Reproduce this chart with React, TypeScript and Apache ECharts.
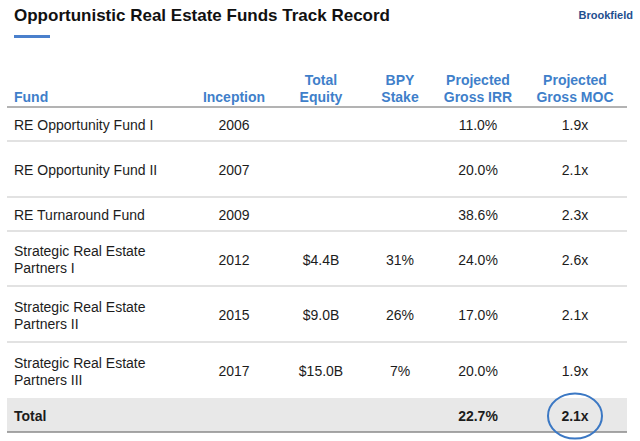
import React, { useEffect, useRef } from "react";
import * as echarts from "echarts";

const title = "Opportunistic Real Estate Funds Track Record";
const brand = "Brookfield";
const headers = ["Fund", "Inception", "Total\nEquity", "BPY\nStake", "Projected\nGross IRR", "Projected\nGross MOC"];
const funds = [
  "RE Opportunity Fund I",
  "RE Opportunity Fund II",
  "RE Turnaround Fund",
  "Strategic Real Estate\nPartners I",
  "Strategic Real Estate\nPartners II",
  "Strategic Real Estate\nPartners III",
];
const inception = ["2006", "2007", "2009", "2012", "2015", "2017"];
const totalEquity = ["", "", "", "$4.4B", "$9.0B", "$15.0B"];
const bpyStake = ["", "", "", "31%", "26%", "7%"];
const grossIrr = [11.0, 20.0, 38.6, 24.0, 17.0, 20.0];
const grossMoc = [1.9, 2.1, 2.3, 2.6, 2.1, 1.9];
const totalLabel = "Total";
const totalIrr = 22.7;
const totalMoc = 2.1;

// layout
const colX = [14, 234, 321, 400, 478, 575];
const rowEdges = [107, 141, 197, 231, 286, 342, 398, 432];
const TABLE_L = 7;
const TABLE_R = 627;
const FONT = "'Liberation Sans', Arial, sans-serif";
const BLUE = "#3f7fca";
const TEXT = "#1c1c1c";

export default function App() {
  const ref = useRef<HTMLDivElement>(null);
  useEffect(() => {
    if (!ref.current) return;
    const chart = echarts.init(ref.current, null, { renderer: "svg" });
    const els: any[] = [];
    els.push({
      type: "text",
      style: { text: title, x: 14, y: 15, textVerticalAlign: "middle", font: `bold 17px ${FONT}`, fill: "#111" },
    });
    els.push({
      type: "text",
      style: { text: brand, x: 633, y: 15, textAlign: "right", textVerticalAlign: "middle", font: `bold 11px ${FONT}`, fill: "#1f4f8f" },
    });
    els.push({ type: "rect", shape: { x: 14, y: 35, width: 36, height: 3 }, style: { fill: "#4a80cc" } });
    // total band
    els.push({
      type: "rect",
      shape: { x: TABLE_L, y: rowEdges[6], width: TABLE_R - TABLE_L, height: rowEdges[7] - rowEdges[6] },
      style: { fill: "#e8e8e8" },
    });
    headers.forEach((h, i) => {
      els.push({
        type: "text",
        style: {
          text: h,
          x: colX[i],
          y: 105,
          textAlign: i === 0 ? "left" : "center",
          textVerticalAlign: "bottom",
          font: `bold 14px ${FONT}`,
          lineHeight: 17,
          fill: BLUE,
        },
      });
    });
    // lines
    els.push({ type: "line", shape: { x1: TABLE_L, y1: rowEdges[0], x2: TABLE_R, y2: rowEdges[0] }, style: { stroke: "#9a9a9a", lineWidth: 1.5 } });
    for (let r = 1; r < 6; r++) {
      els.push({ type: "line", shape: { x1: TABLE_L, y1: rowEdges[r], x2: TABLE_R, y2: rowEdges[r] }, style: { stroke: "#e2e2e2", lineWidth: 2 } });
    }
    els.push({ type: "line", shape: { x1: TABLE_L, y1: rowEdges[7], x2: TABLE_R, y2: rowEdges[7] }, style: { stroke: "#8a8a8a", lineWidth: 1.5 } });

    const cell = (txt: string, i: number, cy: number, bold = false) => {
      els.push({
        type: "text",
        style: {
          text: txt,
          x: colX[i],
          y: cy,
          textAlign: i === 0 ? "left" : "center",
          textVerticalAlign: "middle",
          font: `${bold ? "bold " : ""}14px ${FONT}`,
          lineHeight: 17,
          fill: TEXT,
        },
      });
    };
    funds.forEach((f, r) => {
      const cy = (rowEdges[r] + rowEdges[r + 1]) / 2 + 1;
      cell(f, 0, cy);
      cell(inception[r], 1, cy);
      cell(totalEquity[r], 2, cy);
      cell(bpyStake[r], 3, cy);
      cell(grossIrr[r].toFixed(1) + "%", 4, cy);
      cell(grossMoc[r].toFixed(1) + "x", 5, cy);
    });
    const ty = (rowEdges[6] + rowEdges[7]) / 2 + 1;
    cell(totalLabel, 0, ty, true);
    cell(totalIrr.toFixed(1) + "%", 4, ty, true);
    cell(totalMoc.toFixed(1) + "x", 5, ty, true);
    els.push({
      type: "ellipse",
      shape: { cx: colX[5], cy: ty, rx: 27, ry: 22.5 },
      style: { fill: "none", stroke: "#3b78c4", lineWidth: 2 },
    });

    chart.setOption({ animation: false, graphic: { elements: els } });
    return () => chart.dispose();
  }, []);
  return <div ref={ref} style={{ position: "fixed", left: 0, top: 0, width: 640, height: 441, background: "#fff" }} />;
}
